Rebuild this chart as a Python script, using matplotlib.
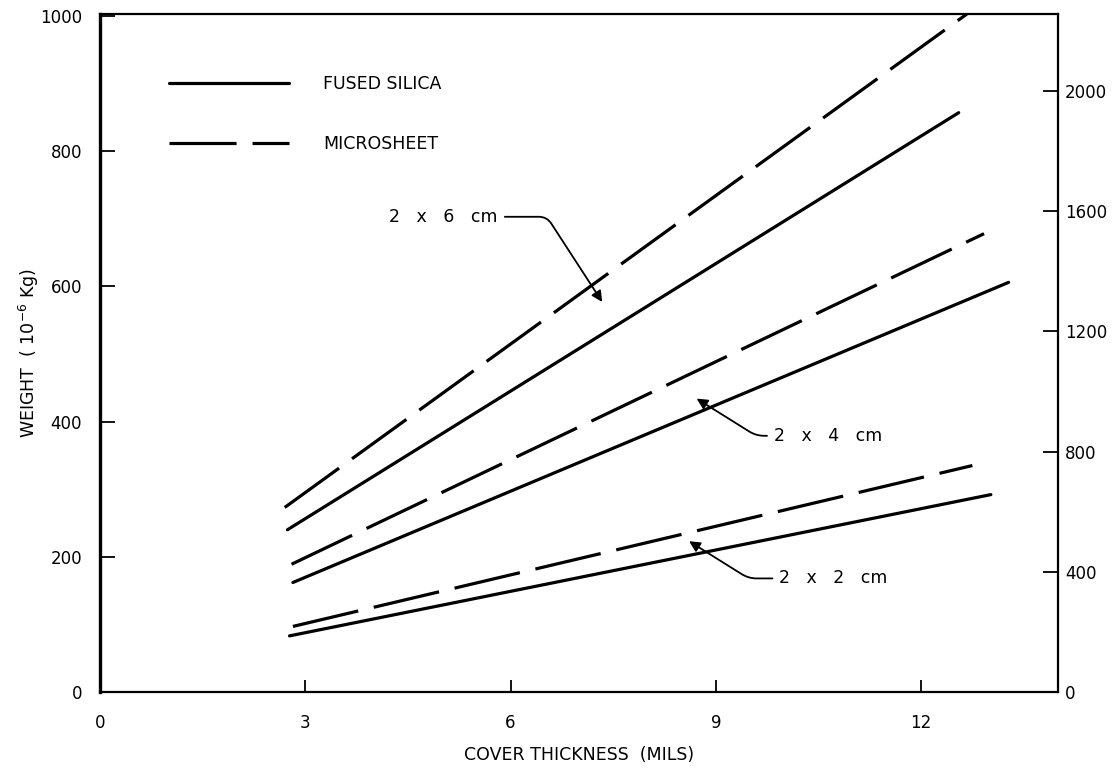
import matplotlib
matplotlib.use("Agg")
import matplotlib.pyplot as plt

# cover thickness (mils) vs weight (10^-6 kg)
fs_2x6_x = [2.74, 12.55]
fs_2x6_y = [240, 857]
ms_2x6_x = [2.70, 12.67]
ms_2x6_y = [273, 1003]

fs_2x4_x = [2.82, 13.28]
fs_2x4_y = [162, 606]
ms_2x4_x = [2.80, 12.92]
ms_2x4_y = [189, 678]

fs_2x2_x = [2.77, 13.02]
fs_2x2_y = [83, 292]
ms_2x2_x = [2.82, 12.75]
ms_2x2_y = [97, 335]

x_ticks = [0, 3, 6, 9, 12]
left_ticks = [0, 200, 400, 600, 800, 1000]
right_ticks = [0, 400, 800, 1200, 1600, 2000]
right_scale = 2.25   # right axis / left axis

plt.rcParams['font.family'] = ['DejaVu Sans']

fig = plt.figure(figsize=(11.17, 7.73), dpi=100)
ax = fig.add_axes([0.0895, 0.1048, 0.8576, 0.8771])

lw = 2.3
dash = (0, (21, 5))
ax.plot(fs_2x6_x, fs_2x6_y, color='black', lw=lw, solid_capstyle='round', label='FUSED SILICA')
ax.plot(ms_2x6_x, ms_2x6_y, color='black', lw=lw, linestyle=dash, label='MICROSHEET')
ax.plot(fs_2x4_x, fs_2x4_y, color='black', lw=lw, solid_capstyle='round')
ax.plot(ms_2x4_x, ms_2x4_y, color='black', lw=lw, linestyle=dash)
ax.plot(fs_2x2_x, fs_2x2_y, color='black', lw=lw, solid_capstyle='round')
ax.plot(ms_2x2_x, ms_2x2_y, color='black', lw=lw, linestyle=dash)

ax.set_xlim(0, 14)
ax.set_ylim(0, 1003)
ax.set_xticks(x_ticks)
ax.set_yticks(left_ticks)

for s in ['top', 'right', 'bottom']:
    ax.spines[s].set_linewidth(1.6)
ax.spines['left'].set_linewidth(2.4)

ax.tick_params(axis='x', direction='in', length=9, width=1.3, pad=16, labelsize=12)
ax.tick_params(axis='y', direction='in', length=11, width=1.3, pad=13, labelsize=12)
ax.yaxis.get_major_ticks()[0].tick1line.set_visible(False)
ax.yaxis.get_major_ticks()[-1].tick1line.set_visible(False)

ax.set_xlabel('COVER THICKNESS  (MILS)', fontsize=12.5, labelpad=10)
ax.set_ylabel('WEIGHT  ( 10$^{-6}$ Kg)', fontsize=12.5)
ax.yaxis.set_label_coords(-0.062, 0.5)

ax2 = ax.twinx()
ax2.set_ylim(0, 1003 * right_scale)
ax2.set_yticks(right_ticks)
ax2.tick_params(axis='y', direction='in', length=11, width=1.3, pad=5, labelsize=12)
for s in ax2.spines.values():
    s.set_visible(False)
ax2.yaxis.get_major_ticks()[0].tick2line.set_visible(False)

leg = ax.legend(loc='upper left', bbox_to_anchor=(0.072, 0.91), frameon=False,
                handlelength=6.9, handletextpad=2.0, labelspacing=2.4,
                fontsize=12.5, borderaxespad=0, borderpad=0)

arrow = dict(arrowstyle='-|>', color='black', lw=1.3, mutation_scale=16,
             shrinkA=3, shrinkB=0)
ax.annotate('2   x   6   cm', xy=(7.34, 577), xytext=(4.23, 703), fontsize=12.5,
            va='center', ha='left',
            arrowprops=dict(connectionstyle='angle,angleA=0,angleB=123,rad=8', **arrow))
ax.annotate('2   x   4   cm', xy=(8.72, 434), xytext=(9.85, 379), fontsize=12.5,
            va='center', ha='left',
            arrowprops=dict(connectionstyle='angle,angleA=0,angleB=-32,rad=8', **arrow))
ax.annotate('2   x   2   cm', xy=(8.61, 223), xytext=(9.93, 168), fontsize=12.5,
            va='center', ha='left',
            arrowprops=dict(connectionstyle='angle,angleA=0,angleB=-32,rad=8', **arrow))

fig.savefig('out.png', dpi=100)
